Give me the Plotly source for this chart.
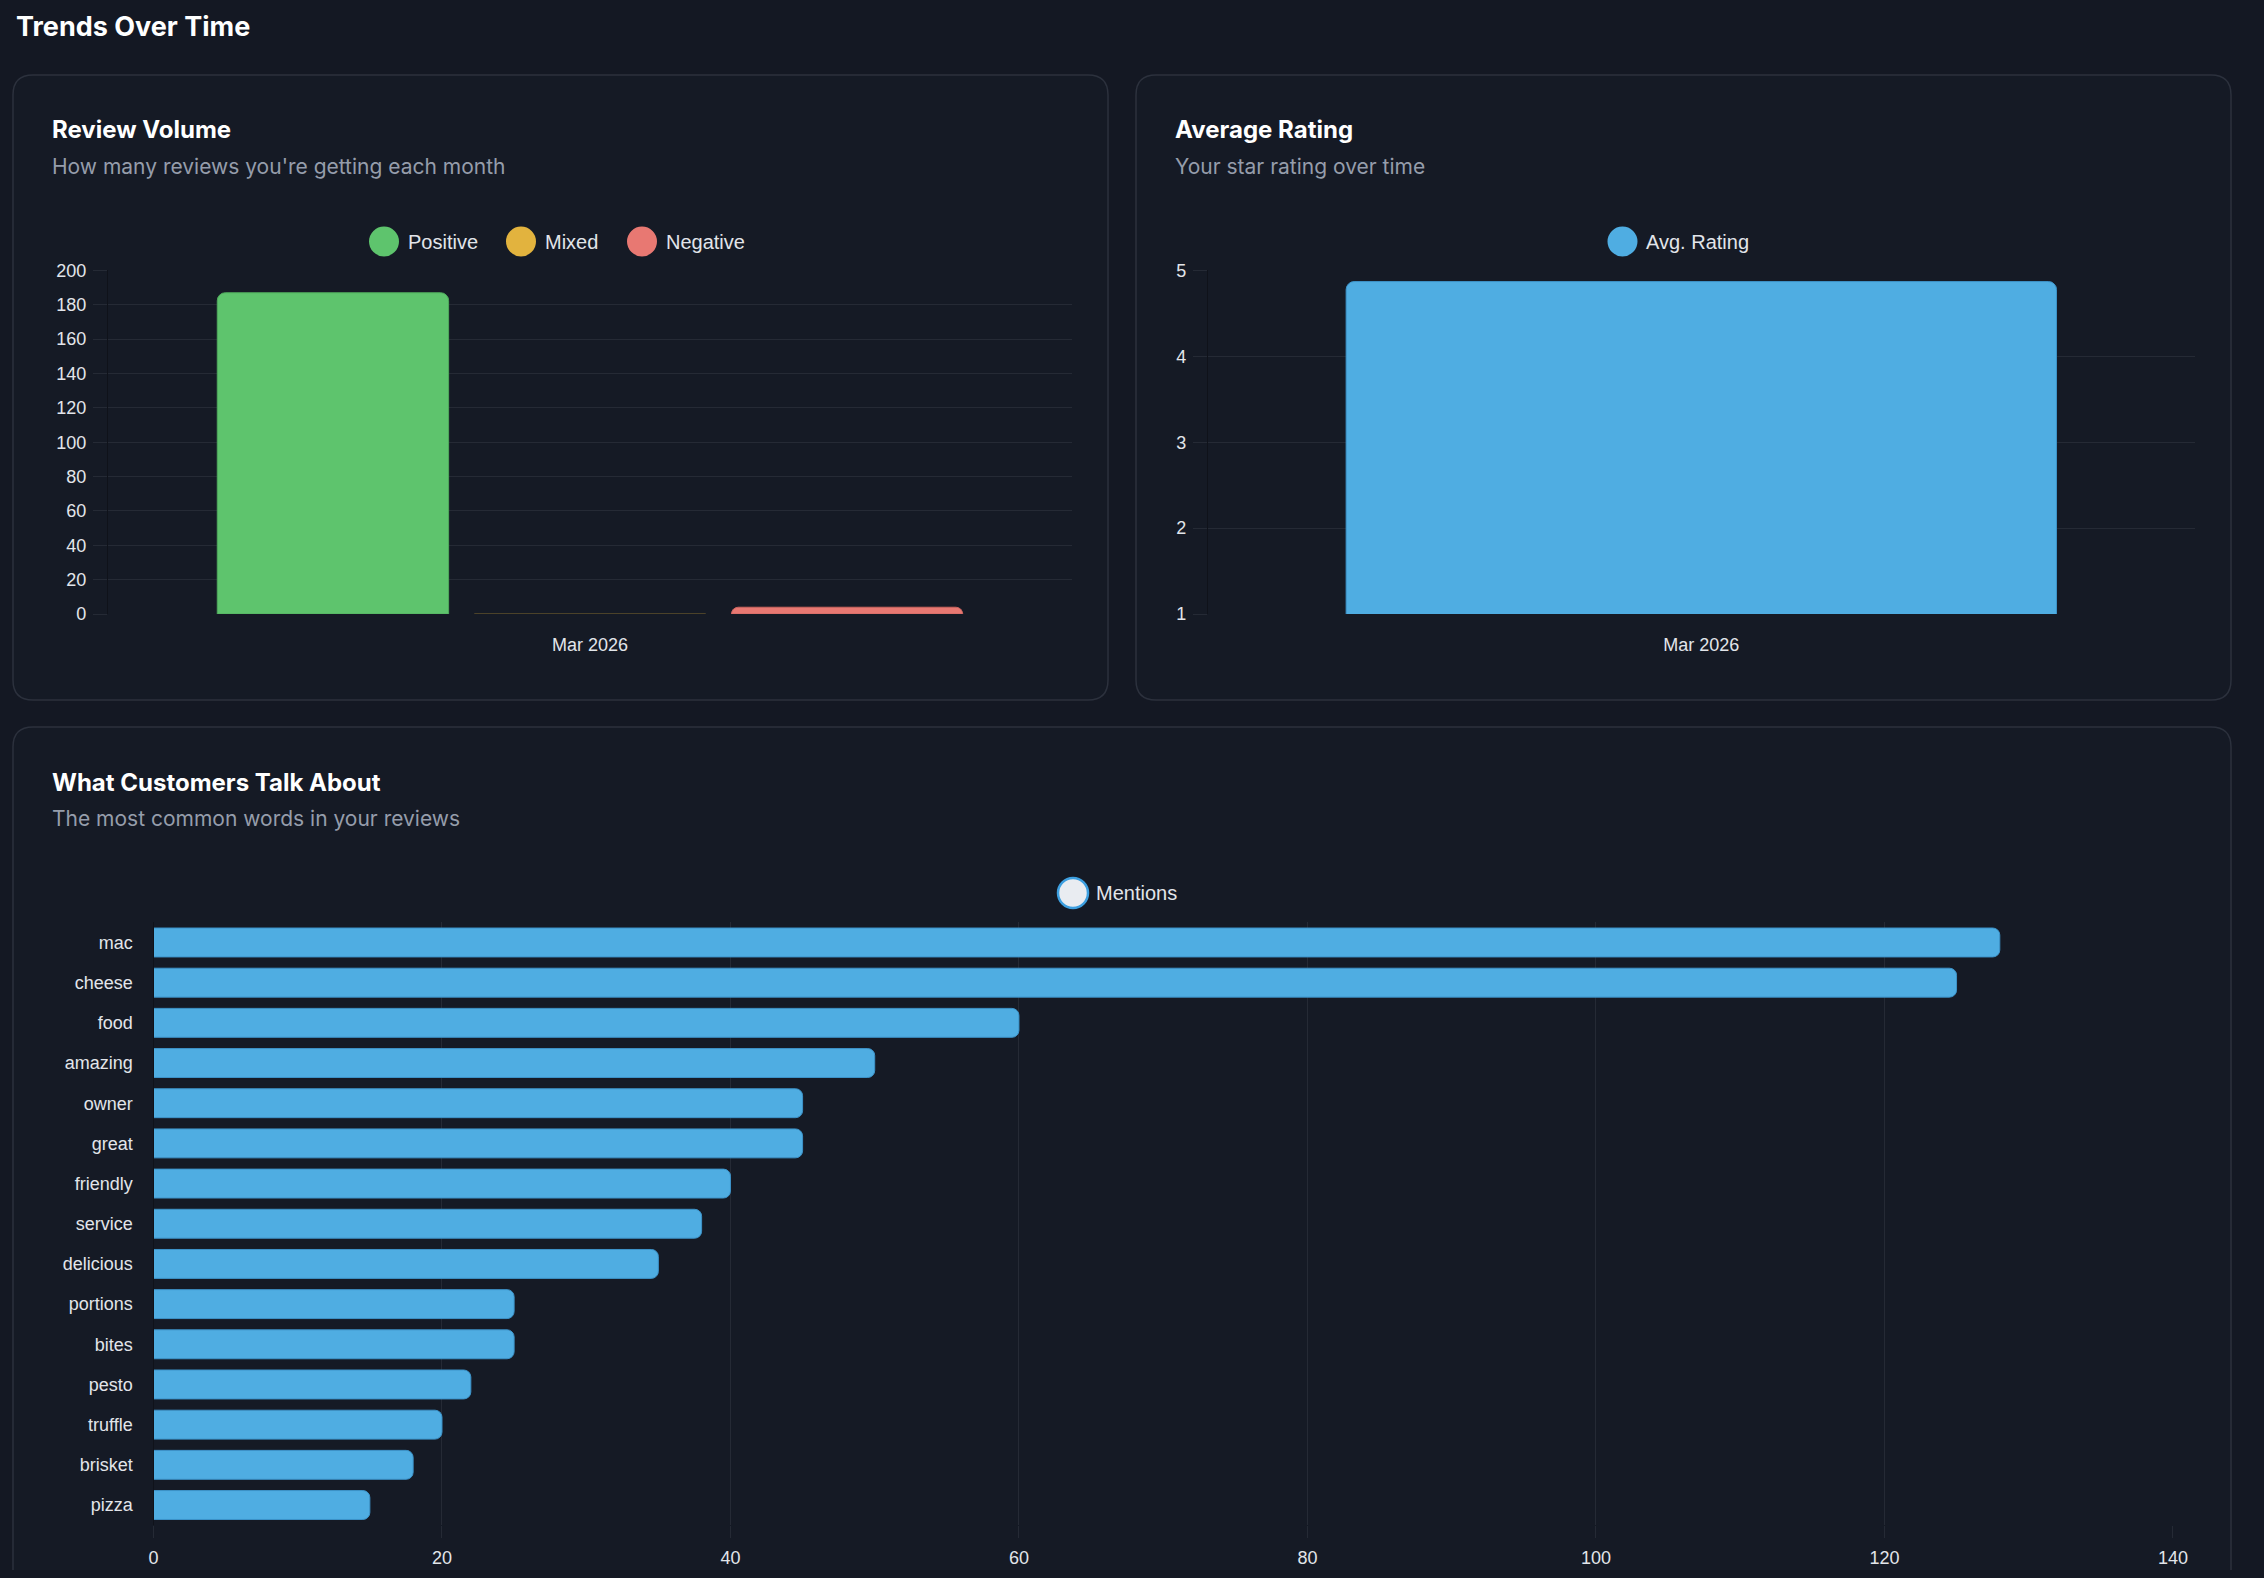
import plotly.graph_objects as go

months = ["Mar 2026"]
positive = [187]
mixed = [0]
negative = [4]
avg_rating = [4.87]

words = ["mac", "cheese", "food", "amazing", "owner", "great", "friendly", "service",
         "delicious", "portions", "bites", "pesto", "truffle", "brisket", "pizza"]
mentions = [128, 125, 60, 50, 45, 45, 40, 38, 35, 25, 25, 22, 20, 18, 15]

# page is 2264x1578, the body keeps its 8px margin
PAGE_MARGIN = 8
W, H = 2264 - 2 * PAGE_MARGIN, 1578 - 2 * PAGE_MARGIN
BG = "#141823"
PANEL = "#151a25"
BORDER = "#2c313d"
GRID = "#252a35"
TICK = "#e2e5ea"
SUB = "#959dab"
TITLE_FONT = "Inter"
CHART_FONT = "Liberation Sans"

GREEN, GOLD, RED, BLUE = "#5EC46D", "#E2B33E", "#E87872", "#4FADE2"


def px(x):
    return (x - PAGE_MARGIN) / W


def py(y):
    return 1 - (y - PAGE_MARGIN) / H


def rounded_box(x0, y0, x1, y1, r):
    pts = [
        ("M", x0 + r, y0), ("L", x1 - r, y0), ("Q", x1, y0, x1, y0 + r),
        ("L", x1, y1 - r), ("Q", x1, y1, x1 - r, y1), ("L", x0 + r, y1),
        ("Q", x0, y1, x0, y1 - r), ("L", x0, y0 + r), ("Q", x0, y0, x0 + r, y0),
    ]
    d = ""
    for p in pts:
        cmd, nums = p[0], p[1:]
        coords = []
        for i in range(0, len(nums), 2):
            coords.append(f"{px(nums[i]):.5f},{py(nums[i + 1]):.5f}")
        d += cmd + " ".join(coords) + " "
    return dict(type="path", path=d + "Z", xref="paper", yref="paper",
                fillcolor=PANEL, line=dict(color=BORDER, width=1.5), layer="below")


def text(s, x, y, size, color, family=TITLE_FONT, bold=False, anchor="left"):
    return dict(text=f"<b>{s}</b>" if bold else s, x=px(x), y=py(y),
                xref="paper", yref="paper", xanchor=anchor, yanchor="middle",
                showarrow=False, font=dict(family=family, size=size, color=color))


def dot(cx, cy, fill, line=None, d=30):
    return dict(type="circle", xref="paper", yref="paper",
                x0=px(cx - d / 2), x1=px(cx + d / 2), y0=py(cy + d / 2), y1=py(cy - d / 2),
                fillcolor=fill, line=dict(color=line or fill, width=2.5 if line else 0))


fig = go.Figure()

# review volume
fig.add_trace(go.Bar(x=months, y=positive, name="Positive", marker_color=GREEN,
                     marker_line=dict(color="#4fa95c", width=1), marker_cornerradius=8,
                     xaxis="x", yaxis="y"))
fig.add_trace(go.Bar(x=months, y=mixed, name="Mixed", marker_color=GOLD,
                     marker_line=dict(color="#6b5a2e", width=1), marker_cornerradius=8,
                     xaxis="x", yaxis="y"))
fig.add_trace(go.Bar(x=months, y=negative, name="Negative", marker_color=RED,
                     marker_line=dict(color="#c9645f", width=1), marker_cornerradius=8,
                     xaxis="x", yaxis="y"))

# average rating
fig.add_trace(go.Bar(x=months, y=avg_rating, name="Avg. Rating", marker_color=BLUE,
                     marker_line=dict(color="#3d93c9", width=1), marker_cornerradius=8,
                     width=0.72, xaxis="x2", yaxis="y2"))

# word mentions
fig.add_trace(go.Bar(x=mentions, y=words, orientation="h", name="Mentions",
                     marker_color=BLUE, marker_line=dict(color="#3d93c9", width=1),
                     marker_cornerradius=7, width=0.72, xaxis="x3", yaxis="y3"))

tickfont = dict(family=CHART_FONT, size=18, color=TICK)
common = dict(automargin=False, zeroline=False, tickfont=tickfont)

fig.update_layout(
    width=W, height=H,
    margin=dict(l=0, r=0, t=0, b=0, autoexpand=False),
    paper_bgcolor=BG, plot_bgcolor="rgba(0,0,0,0)",
    showlegend=False,
    barmode="group", bargap=0.2, bargroupgap=0.1,
    xaxis=dict(domain=[px(108), px(1072)], anchor="y", showgrid=False,
               ticks="", ticklabelstandoff=18, **common),
    yaxis=dict(domain=[py(614.1), py(270.4)], anchor="x", range=[0, 200], dtick=20,
               gridcolor=GRID, gridwidth=1.4, showline=True,
               linecolor="#0f121a", linewidth=1.4, ticks="outside", ticklen=14,
               tickcolor=GRID, tickwidth=1.4, ticklabelstandoff=3, **common),
    xaxis2=dict(domain=[px(1208), px(2194.6)], anchor="y2", showgrid=False,
                ticks="", ticklabelstandoff=18, **common),
    yaxis2=dict(domain=[py(614.1), py(270.4)], anchor="x2", range=[1, 5], dtick=1,
                gridcolor=GRID, gridwidth=1.4, showline=True,
                linecolor="#0f121a", linewidth=1.4, ticks="outside", ticklen=14,
                tickcolor=GRID, tickwidth=1.4, ticklabelstandoff=3, **common),
    xaxis3=dict(domain=[px(153.5), px(2172.9)], anchor="y3", range=[0, 140], dtick=20,
                gridcolor=GRID, gridwidth=1.4, ticks="outside", ticklen=12,
                tickcolor=GRID, tickwidth=1.4, ticklabelstandoff=4, **common),
    yaxis3=dict(domain=[py(1525.1), py(922.4)], anchor="x3", autorange="reversed",
                showgrid=False, showline=True, linecolor="#0f121a",
                linewidth=1.4, ticks="", ticklabelstandoff=16, **common),
)

shapes = [
    rounded_box(13, 75, 1108, 700, 20),
    rounded_box(1136, 75, 2231, 700, 20),
    rounded_box(13, 727, 2231, 1620, 20),
]

# legends drawn by hand so the round swatches keep their size
legend_font = 20
for name, color, cx in [("Positive", GREEN, 384), ("Mixed", GOLD, 521), ("Negative", RED, 642)]:
    shapes.append(dot(cx, 241.5, color))
annotations = [
    text("Trends Over Time", 14, 26, 27, "#ffffff", bold=True),
    text("Review Volume", 50, 130, 24, "#ffffff", bold=True),
    text("How many reviews you're getting each month", 50, 166, 21, SUB),
    text("Average Rating", 1173, 130, 24, "#ffffff", bold=True),
    text("Your star rating over time", 1173, 166, 21, SUB),
    text("What Customers Talk About", 50, 782, 24, "#ffffff", bold=True),
    text("The most common words in your reviews", 50, 818, 21, SUB),
]
for name, tx in [("Positive", 406), ("Mixed", 543), ("Negative", 664)]:
    annotations.append(text(name, tx, 241.5, legend_font, TICK, family=CHART_FONT))

shapes.append(dot(1622.5, 241.5, BLUE))
annotations.append(text("Avg. Rating", 1644, 241.5, legend_font, TICK, family=CHART_FONT))

shapes.append(dot(1073, 893, "#e9ecf1", line="#3d9fe0", d=30))
annotations.append(text("Mentions", 1094, 893, legend_font, TICK, family=CHART_FONT))

fig.update_layout(shapes=shapes, annotations=annotations)

# paint the page margin in the same dark colour as the figure
page_bg = f"document.body.style.background='{BG}';document.documentElement.style.background='{BG}';"
fig.write_html("out.html", config={"displayModeBar": False}, post_script=page_bg)
